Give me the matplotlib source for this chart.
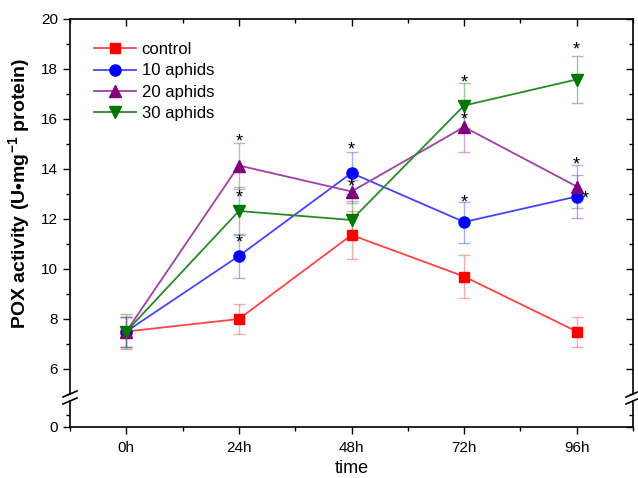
import matplotlib
matplotlib.use("Agg")
import matplotlib.pyplot as plt
from matplotlib.ticker import MultipleLocator, FixedLocator
import numpy as np

plt.rcParams['font.family'] = ['Liberation Sans', 'DejaVu Sans']
plt.rcParams['mathtext.fontset'] = 'custom'
plt.rcParams['mathtext.rm'] = 'Liberation Sans'
plt.rcParams['mathtext.bf'] = 'Liberation Sans:bold'

# ---- data ----
time_labels = ['0h', '24h', '48h', '72h', '96h']
series_names = ['control', '10 aphids', '20 aphids', '30 aphids']
control = [7.5, 8.0, 11.36, 9.7, 7.5]
control_err = [0.6, 0.6, 0.95, 0.85, 0.6]
aphids10 = [7.5, 10.52, 13.84, 11.88, 12.9]
aphids10_err = [0.6, 0.88, 0.85, 0.82, 0.85]
aphids20 = [7.5, 14.14, 13.1, 15.68, 13.3]
aphids20_err = [0.6, 0.92, 0.45, 1.0, 0.85]
aphids30 = [7.5, 12.32, 11.96, 16.54, 17.58]
aphids30_err = [0.7, 0.95, 0.75, 0.9, 0.95]

# significance stars: (time index, y value, x shift)
stars = [(1, 11.24, 0), (2, 14.96, 0), (3, 12.85, 0), (4, 13.0, 0.075),
         (1, 15.29, 0), (2, 13.48, 0), (3, 16.17, 0), (4, 14.38, 0),
         (1, 13.05, 0), (3, 17.66, 0), (4, 18.95, 0)]

values = [control, aphids10, aphids20, aphids30]
errors = [control_err, aphids10_err, aphids20_err, aphids30_err]
marker_colors = ['#ff0000', '#0000ff', '#800080', '#007800']
line_colors = ['#ff4444', '#4444ff', '#a040a8', '#2a8a2a']
markers = ['s', 'o', '^', 'v']
msizes = [7, 8, 8.5, 8.5]

W, H = 638, 478
fig = plt.figure(figsize=(W / 100, H / 100), dpi=100)
L, R = 70, 633
top_t, top_b = 19, 394
bot_t, bot_b = 401, 427
ax = fig.add_axes([L / W, (H - top_b) / H, (R - L) / W, (top_b - top_t) / H])
axb = fig.add_axes([L / W, (H - bot_b) / H, (R - L) / W, (bot_b - bot_t) / H], sharex=ax)

x = np.arange(len(time_labels))
handles = []
for vals, errs, mc, lc, mk, ms, name in zip(values, errors, marker_colors, line_colors,
                                             markers, msizes, series_names):
    ax.errorbar(x, vals, yerr=errs, fmt='none', ecolor=lc, alpha=0.45,
                elinewidth=1.0, capsize=4, capthick=1.0, zorder=2)
    h, = ax.plot(x, vals, color=lc, lw=1.3, marker=mk, ms=ms,
                 markerfacecolor=mc, markeredgecolor=mc, label=name, zorder=3)
    handles.append(h)

for xi, yv, dx in stars:
    ax.annotate('*', (x[xi] + dx, yv), xytext=(0, -7), textcoords='offset points',
                ha='center', va='baseline', fontsize=13, color='black', zorder=5)

ax.set_xlim(-0.5, 4.5)
ax.set_ylim(5.0, 20)
axb.set_ylim(0, 1.04)

# top axes styling
ax.spines['bottom'].set_visible(False)
ax.tick_params(axis='x', which='both', bottom=False, labelbottom=False,
               top=True, direction='in')
ax.xaxis.set_major_locator(FixedLocator(x))
ax.xaxis.set_minor_locator(FixedLocator(np.arange(-0.5, 5.0, 1.0)))
ax.tick_params(axis='x', which='major', length=5, width=1)
ax.tick_params(axis='x', which='minor', length=3, width=1)
ax.yaxis.set_major_locator(MultipleLocator(2))
ax.yaxis.set_minor_locator(MultipleLocator(1))
ax.tick_params(axis='y', which='major', direction='out', length=5, width=1,
               labelsize=11)
ax.tick_params(axis='y', which='minor', direction='out', length=3, width=1)
secy = ax.secondary_yaxis('right')
secy.yaxis.set_major_locator(MultipleLocator(2))
secy.yaxis.set_minor_locator(MultipleLocator(1))
secy.tick_params(axis='y', which='major', direction='in', length=5, width=1, labelright=False)
secy.tick_params(axis='y', which='minor', direction='in', length=3, width=1)
secy.spines['right'].set_linewidth(1.2)
ax.spines['right'].set_visible(False)
for s in ['left', 'top']:
    ax.spines[s].set_linewidth(1.2)

# bottom axes styling
axb.spines['top'].set_visible(False)
axb.spines['right'].set_visible(False)
for s in ['left', 'bottom']:
    axb.spines[s].set_linewidth(1.2)
axb.yaxis.set_major_locator(FixedLocator([0]))
axb.yaxis.set_minor_locator(FixedLocator([0.5]))
axb.tick_params(axis='y', which='major', direction='out', length=5, width=1, labelsize=11)
axb.tick_params(axis='y', which='minor', direction='out', length=3, width=1)
secb = axb.secondary_yaxis('right')
secb.yaxis.set_major_locator(FixedLocator([0]))
secb.yaxis.set_minor_locator(FixedLocator([0.5]))
secb.tick_params(axis='y', which='major', direction='in', length=5, width=1, labelright=False)
secb.tick_params(axis='y', which='minor', direction='in', length=3, width=1)
secb.spines['right'].set_linewidth(1.2)
axb.set_xticks(x)
axb.set_xticklabels(time_labels)
axb.tick_params(axis='x', which='major', direction='out', length=5, width=1, labelsize=11, pad=5)
axb.tick_params(axis='x', which='minor', direction='out', length=3, width=1)
axb.set_xlabel('time', fontsize=13, labelpad=4)

ax.set_ylabel(r'POX activity (U•mg$^{\mathbf{-1}}$ protein)', fontsize=14,
              fontweight='bold')
ax.yaxis.set_label_coords(-0.066, 0.535)

# break marks
for xp in (L, R):
    for yp in (top_b, bot_t):
        fig.add_artist(plt.Line2D([(xp - 7) / W, (xp + 7) / W],
                                  [(H - yp - 3) / H, (H - yp + 3) / H],
                                  color='black', lw=1.2))

leg = ax.legend(handles=handles, loc='upper left', bbox_to_anchor=(0.025, 0.965),
                frameon=False, fontsize=12, handlelength=2.5, handletextpad=0.35,
                labelspacing=0.38, borderaxespad=0.2)

fig.savefig('out.png', dpi=100)
